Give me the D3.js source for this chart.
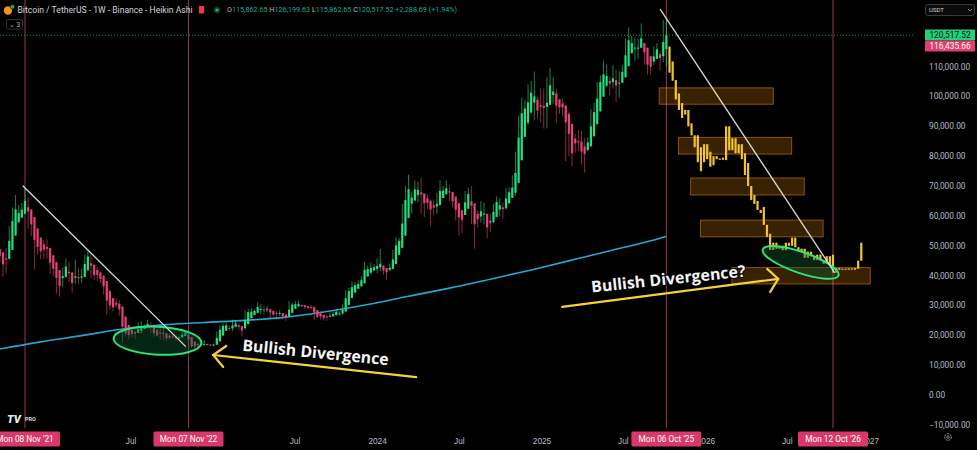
<!DOCTYPE html>
<html>
<head>
<meta charset="utf-8">
<script src="https://cdn.jsdelivr.net/npm/d3@7"></script>
<style>
  html, body { margin: 0; padding: 0; background: #000; overflow: hidden; }
  svg { display: block; font-family: Roboto, "Liberation Sans", sans-serif; }
</style>
</head>
<body>
<script>
// weekly BTCUSDT candles (thousands), first week starts 2021-08-23
var startWeek = "2021-08-23";
var firstOpen = 49.2;
var weekClose = [
  48.8, 51.8, 46.0, 47.3, 43.2, 48.2, 54.7, 61.5, 60.9, 61.3, 63.3, 65.5, 58.6, 57.3, 49.4, 50.1, 46.7, 50.8, 47.3,
  41.8, 43.1, 36.3, 37.9, 42.4, 42.2, 38.4, 37.7, 38.8, 37.8, 41.3, 46.8, 46.4, 40.4, 40.4, 39.4, 37.6, 34.3, 31.3,
  29.4, 29.4, 29.9, 26.6, 20.6, 20.7, 19.3, 20.8, 20.8, 22.6, 23.3, 23.2, 24.3, 21.5, 20.0, 19.8, 21.8, 19.4, 18.8,
  19.3, 19.1, 19.2, 19.6, 20.8, 21.0, 16.3, 16.3, 16.5, 17.1, 17.1, 16.8, 16.8, 16.6,
  17.1, 20.9, 22.7, 23.7, 22.9, 21.8, 24.6, 23.2, 22.4, 22.0, 28.0, 27.5, 28.4, 28.3, 30.3, 27.6, 29.2, 28.9, 26.9,
  26.7, 28.1, 27.1, 25.9, 26.3, 30.5, 30.2, 30.2, 30.2, 29.8, 29.3, 29.1, 29.3, 26.1, 26.0, 25.9, 25.8, 26.5, 26.3,
  27.9, 27.9, 27.1, 30.0, 34.5, 35.0, 37.1, 37.4, 37.4, 39.5, 43.8, 41.4, 43.7, 42.3,
  43.9, 41.7, 41.6, 42.0, 42.6, 48.3, 51.7, 51.7, 63.1, 68.9, 68.4, 67.2, 69.6, 69.4, 65.7, 64.9, 63.1, 63.9, 61.5,
  66.3, 69.0, 67.8, 69.6, 66.6, 63.2, 62.7, 58.0, 60.8, 68.2, 68.3, 58.2, 58.7, 59.0, 64.2, 57.3, 54.9, 60.0, 63.6,
  65.6, 62.8, 62.9, 69.0, 68.0, 68.8, 80.4, 90.6, 97.9, 96.4, 101.1, 104.5, 95.0, 93.7, 98.4,
  94.5, 101.3, 104.7, 97.7, 96.5, 96.1, 96.3, 94.3, 80.7, 82.6, 86.1, 82.3, 78.4, 83.8, 85.2, 94.0, 94.3, 104.5,
  106.4, 109.0, 104.6, 105.7, 105.6, 102.1, 108.3, 109.2, 119.1, 117.3, 119.4, 114.2, 119.3, 117.4, 113.5, 108.3,
  111.1, 115.3, 115.3, 112.2, 123.5, 122.4
];
var weekHigh = [
  50.5, 52.9, 52.9, 48.8, 45.0, 49.3, 56.6, 62.9, 67.0, 63.7, 64.3, 69.0, 66.3, 59.4, 59.2, 51.9, 50.3, 51.9, 52.1,
  47.6, 44.5, 43.5, 38.9, 42.6, 45.8, 44.7, 39.9, 45.4, 42.6, 42.3, 47.0, 48.2, 47.2, 41.5, 42.9, 40.8, 40.0, 34.2,
  31.0, 30.6, 32.4, 31.7, 26.8, 21.9, 21.4, 22.4, 21.6, 24.3, 24.7, 23.6, 25.2, 24.4, 21.8, 20.6, 22.8, 22.7, 19.9,
  20.4, 20.5, 19.5, 19.7, 21.1, 21.5, 21.5, 17.2, 16.8, 17.4, 17.4, 18.4, 17.0, 16.9,
  17.2, 21.3, 23.4, 23.9, 24.2, 23.3, 25.3, 25.1, 23.9, 22.6, 28.4, 28.9, 29.2, 28.7, 31.0, 30.5, 30.0, 29.8, 28.9,
  27.7, 28.2, 28.4, 27.4, 26.8, 31.4, 31.0, 31.5, 31.8, 30.4, 29.7, 29.8, 30.2, 29.7, 26.8, 28.1, 26.4, 27.0, 27.4,
  28.0, 28.6, 27.9, 30.3, 35.2, 35.9, 38.0, 37.9, 38.4, 39.8, 44.7, 43.4, 44.4, 43.8,
  45.9, 48.9, 43.2, 42.2, 43.9, 48.6, 52.8, 52.5, 64.0, 70.1, 73.8, 68.2, 71.8, 71.3, 72.8, 66.9, 67.2, 64.7, 65.5,
  67.7, 71.9, 70.0, 71.9, 70.2, 66.9, 64.1, 63.8, 61.8, 68.4, 69.4, 70.0, 62.7, 61.8, 65.0, 64.5, 59.8, 60.6, 64.1,
  66.5, 66.0, 64.5, 69.4, 69.5, 73.6, 81.5, 93.4, 99.6, 98.7, 104.1, 105.2, 108.4, 99.9, 102.7,
  102.5, 106.4, 109.6, 106.5, 102.5, 98.8, 99.5, 96.5, 95.0, 84.0, 87.4, 88.8, 88.5, 86.1, 86.4, 95.8, 97.9, 104.9,
  107.1, 112.0, 110.7, 106.8, 110.5, 108.9, 108.5, 110.5, 119.5, 123.2, 120.2, 119.8, 119.4, 124.5, 117.6, 113.5,
  113.3, 116.8, 117.9, 115.4, 125.7, 126.2
];
var weekLow = [
  46.4, 46.5, 42.8, 44.8, 39.6, 40.8, 47.1, 53.9, 59.5, 58.0, 59.4, 62.3, 55.6, 53.3, 42.0, 47.1, 45.5, 45.6, 45.7,
  40.6, 39.6, 34.0, 32.9, 36.3, 41.7, 38.0, 34.3, 37.2, 37.2, 37.6, 40.5, 44.2, 39.2, 38.5, 38.2, 37.6, 33.7, 26.7,
  28.6, 28.0, 29.3, 26.6, 17.6, 19.6, 18.8, 19.3, 18.9, 20.8, 20.7, 22.4, 22.7, 20.8, 19.5, 19.6, 18.5, 18.2, 18.1,
  18.5, 19.0, 18.2, 18.6, 19.3, 20.0, 15.6, 15.8, 15.5, 16.0, 16.8, 16.3, 16.4, 16.3,
  16.5, 17.2, 20.4, 22.3, 22.6, 21.4, 21.4, 22.9, 21.9, 19.6, 21.9, 26.6, 26.5, 27.2, 28.2, 27.1, 27.0, 27.7, 25.8,
  26.4, 25.9, 26.5, 25.3, 24.8, 26.2, 29.5, 29.7, 30.1, 29.5, 28.9, 28.6, 28.7, 25.2, 25.8, 25.3, 24.9, 24.9, 26.0,
  26.1, 27.2, 26.5, 26.8, 30.0, 33.9, 34.5, 34.8, 35.6, 37.1, 39.9, 40.2, 40.6, 41.4,
  40.8, 41.5, 40.3, 38.5, 41.9, 42.3, 47.7, 50.6, 50.9, 59.0, 64.6, 60.8, 66.8, 64.5, 60.7, 59.6, 62.3, 56.6, 60.2,
  60.7, 66.3, 67.1, 67.6, 65.0, 62.8, 58.4, 53.5, 54.3, 60.7, 63.5, 57.2, 49.0, 56.1, 57.8, 57.2, 52.5, 54.6, 57.6,
  62.7, 59.8, 58.9, 62.0, 65.1, 67.5, 66.8, 80.3, 89.4, 90.8, 90.5, 94.2, 92.2, 92.6, 91.5,
  89.3, 89.3, 99.5, 97.7, 91.2, 94.1, 93.4, 78.3, 80.0, 76.6, 81.1, 81.6, 77.1, 74.5, 83.0, 85.1, 92.8, 93.4,
  101.4, 102.1, 103.1, 100.4, 102.7, 98.2, 99.6, 105.1, 107.5, 115.7, 114.7, 112.0, 112.6, 116.8, 110.6, 107.3,
  107.3, 110.6, 114.7, 108.6, 111.5, 110.0
];

// drawn projection (yellow bars), one per week from 2025-10-13
var projStart = "2025-10-13";
var projOpen = [
  116.7, 111.7, 105.5, 101, 97.8, 95.5, 95.5, 91, 87, 87, 83, 78, 84, 81.5, 77, 80, 79.2, 78.8, 78.7, 90,
  82, 86, 81, 84, 81, 77.7, 70, 67, 65, 62, 63, 57, 54, 48.6, 51, 49, 50, 48.5, 51, 50,
  52.7, 49.5, 48, 49, 46, 48, 46.5, 45.2, 47, 45, 44, 46.5, 47, 41, 42.5, 42, 42.3, 42, 42.4, 42,
  42.3, 45
];
var projClose = [
  108, 105.3, 99, 95.5, 92.8, 94, 90, 87, 83, 78, 75, 84, 79, 76.5, 80, 79, 78.8, 79.5, 90, 82,
  86, 81, 84, 79, 73.7, 70, 65.3, 64, 62, 61, 57, 53, 48.6, 51, 49, 50, 48.5, 51, 50, 52.7,
  49.5, 48, 49, 46, 48, 46.5, 45.2, 47, 45, 44, 46.5, 43.6, 41, 42.5, 42, 42.3, 42, 42.4, 42, 42.5,
  45, 51
];

// 200 week moving average (thousands)
var maDates = ["2021-09-13", "2021-12-13", "2022-03-14", "2022-06-13", "2022-09-12", "2022-12-12", "2023-03-13",
  "2023-06-12", "2023-09-11", "2023-12-11", "2024-03-11", "2024-06-10", "2024-09-09", "2024-12-09", "2025-03-10",
  "2025-06-09", "2025-09-08", "2025-10-06"];
var maValues = [15.4, 17.8, 19.9, 22.1, 23.5, 24.3, 25.0, 26.1, 28.0, 30.3, 33.1, 35.8, 38.8, 41.9, 45.2, 48.6, 51.9, 53.1];

// drawings: trend lines [date, price], zones [from, to, top, bottom]
var trendLines = [
  [["2021-11-03", 70.1], ["2022-11-01", 16.2]],
  [["2025-09-22", 129.3], ["2026-10-16", 40.9]]
];
var zones = [
  ["2025-09-20", "2026-06-01", 102.9, 97.4],
  ["2025-11-02", "2026-07-12", 86.3, 80.7],
  ["2025-11-29", "2026-08-09", 72.7, 67.0],
  ["2025-12-21", "2026-09-20", 58.6, 53.0],
  ["2026-03-01", "2027-01-03", 42.7, 37.2]
];
var ellipseCenters = [["2022-08-30", 18.2], ["2026-08-01", 44.4]];
var arrows = [
  [["2024-03-28", 6.0], ["2023-01-01", 13.4]],
  [["2025-02-16", 29.5], ["2026-06-12", 38.9]]
];
var notes = [["Bullish Divergence", "2023-03-06", 14.8], ["Bullish Divergence?", "2025-04-23", 34.3]];

var markerDates = ["2021-11-08", "2022-11-07", "2025-10-06", "2026-10-12"];
var markerLabels = ["Mon 08 Nov '21", "Mon 07 Nov '22", "Mon 06 Oct '25", "Mon 12 Oct '26"];

var xTickDates = ["2022-07-01", "2023-07-01", "2024-01-01", "2024-07-01",
  "2025-01-01", "2025-07-01", "2026-01-01", "2026-07-01", "2027-01-01"];
var xTickLabels = ["Jul", "Jul", "2024", "Jul", "2025", "Jul", "2026", "Jul", "2027"];
var yTicks = [-10000, 0, 10000, 20000, 30000, 40000, 50000, 60000, 70000, 80000, 90000, 100000, 110000];

var lastPrice = 120517.52;
var prevPrice = 116435.66;

var W = 977, H = 450, plotW = 915, plotH = 428;
var K = 1000;
var parse = d3.timeParse("%Y-%m-%d");
var upColor = "#22e07f", downColor = "#e4437a", projColor = "#f1c232";

var x = d3.scaleTime()
    .domain([parse("2021-11-08"), parse("2026-10-12")])
    .range([25, 833]);
var y = d3.scaleLinear()
    .domain([0, 100000])
    .range([395, 96.5]);

// heikin ashi from the weekly bars
var candles = [];
weekClose.forEach(function (c, i) {
  var o = i === 0 ? firstOpen : weekClose[i - 1];
  var hc = (o + weekHigh[i] + weekLow[i] + c) / 4;
  var ho = i === 0 ? (o + c) / 2 : (candles[i - 1].o + candles[i - 1].c) / 2;
  candles.push({
    date: d3.timeWeek.offset(parse(startWeek), i),
    o: ho, c: hc,
    h: Math.max(weekHigh[i], ho, hc),
    l: Math.min(weekLow[i], ho, hc),
    color: hc >= ho ? upColor : downColor
  });
});
var proj = projClose.map(function (c, i) {
  var o = projOpen[i];
  return { date: d3.timeWeek.offset(parse(projStart), i), o: o, c: c, h: Math.max(o, c), l: Math.min(o, c), color: projColor };
});

var svg = d3.select("body").append("svg")
    .attr("width", W)
    .attr("height", H);

svg.append("rect").attr("width", W).attr("height", H).attr("fill", "#000");

svg.append("clipPath").attr("id", "plot")
  .append("rect").attr("width", plotW).attr("height", plotH);

var plot = svg.append("g").attr("clip-path", "url(#plot)");

// session markers
plot.selectAll("line.marker")
    .data(markerDates)
    .enter().append("line")
    .attr("class", "marker")
    .attr("x1", function (d) { return x(parse(d)); })
    .attr("x2", function (d) { return x(parse(d)); })
    .attr("y1", 0)
    .attr("y2", H)
    .attr("stroke", "#9a3457")
    .attr("stroke-width", 1);

// last price line
plot.append("line")
    .attr("x1", 0).attr("x2", plotW)
    .attr("y1", y(lastPrice)).attr("y2", y(lastPrice))
    .attr("stroke", "#2f8a5f")
    .attr("stroke-dasharray", "1,2")
    .attr("stroke-width", 1);

// zones
plot.selectAll("rect.zone")
    .data(zones)
    .enter().append("rect")
    .attr("class", "zone")
    .attr("x", function (d) { return x(parse(d[0])); })
    .attr("y", function (d) { return y(d[2] * K); })
    .attr("width", function (d) { return x(parse(d[1])) - x(parse(d[0])); })
    .attr("height", function (d) { return y(d[3] * K) - y(d[2] * K); })
    .attr("fill", "rgba(255,152,0,0.22)")
    .attr("stroke", "rgba(255,152,0,0.5)")
    .attr("stroke-width", 1);

// moving average
plot.append("path")
    .datum(maDates.map(function (d, i) { return [parse(d), maValues[i] * K]; }))
    .attr("fill", "none")
    .attr("stroke", "#27a6d3")
    .attr("stroke-width", 1.6)
    .attr("d", d3.line()
      .x(function (d) { return x(d[0]); })
      .y(function (d) { return y(d[1]); })
      .curve(d3.curveMonotoneX));

// candles
var allCandles = candles.concat(proj);
var cg = plot.selectAll("g.candle")
    .data(allCandles)
    .enter().append("g")
    .attr("class", "candle");
cg.append("line")
    .attr("x1", function (d) { return x(d.date); })
    .attr("x2", function (d) { return x(d.date); })
    .attr("y1", function (d) { return y(d.h * K); })
    .attr("y2", function (d) { return y(d.l * K); })
    .attr("stroke", function (d) { return d.color; })
    .attr("stroke-opacity", 0.75)
    .attr("stroke-width", 0.8);
cg.append("rect")
    .attr("x", function (d) { return x(d.date) - 1.1; })
    .attr("width", 2.2)
    .attr("y", function (d) { return y(Math.max(d.o, d.c) * K); })
    .attr("height", function (d) { return Math.max(1, Math.abs(y(d.o * K) - y(d.c * K))); })
    .attr("fill", function (d) { return d.color; });

// ellipses over the lows
var ellipseShape = [[44, 14, 3], [40, 10.5, 19]];
plot.selectAll("ellipse.circle")
    .data(ellipseCenters)
    .enter().append("ellipse")
    .attr("class", "circle")
    .attr("cx", 0).attr("cy", 0)
    .attr("rx", function (d, i) { return ellipseShape[i][0]; })
    .attr("ry", function (d, i) { return ellipseShape[i][1]; })
    .attr("transform", function (d, i) {
      return "translate(" + x(parse(d[0])) + "," + y(d[1] * K) + ") rotate(" + ellipseShape[i][2] + ")";
    })
    .attr("fill", "rgba(10,90,50,0.4)")
    .attr("stroke", "#2ee37a")
    .attr("stroke-width", 2);

// trend lines
plot.selectAll("line.trend")
    .data(trendLines)
    .enter().append("line")
    .attr("class", "trend")
    .attr("x1", function (d) { return x(parse(d[0][0])); })
    .attr("y1", function (d) { return y(d[0][1] * K); })
    .attr("x2", function (d) { return x(parse(d[1][0])); })
    .attr("y2", function (d) { return y(d[1][1] * K); })
    .attr("stroke", "#d9d9d9")
    .attr("stroke-width", 1.3);

// arrows
var arrowArms = [[[13, -9], [10, 12]], [[-11, -10], [-8, 13]]];
arrows.forEach(function (a, i) {
  var x1 = x(parse(a[0][0])), y1 = y(a[0][1] * K);
  var x2 = x(parse(a[1][0])), y2 = y(a[1][1] * K);
  var g = plot.append("g")
      .attr("stroke", "#f3d23c")
      .attr("stroke-width", 2.2)
      .attr("stroke-linecap", "round")
      .attr("fill", "none");
  g.append("line").attr("x1", x1).attr("y1", y1).attr("x2", x2).attr("y2", y2);
  g.append("path").attr("d", "M" + (x2 + arrowArms[i][0][0]) + "," + (y2 + arrowArms[i][0][1]) +
      "L" + x2 + "," + y2 + "L" + (x2 + arrowArms[i][1][0]) + "," + (y2 + arrowArms[i][1][1]));
});

// notes
var noteTilt = [5.6, -6];
var noteLen = [147, 155];
plot.selectAll("text.note")
    .data(notes)
    .enter().append("text")
    .attr("class", "note")
    .attr("transform", function (d, i) {
      return "translate(" + x(parse(d[1])) + "," + y(d[2] * K) + ") rotate(" + noteTilt[i] + ")";
    })
    .attr("textLength", function (d, i) { return noteLen[i]; })
    .attr("lengthAdjust", "spacingAndGlyphs")
    .attr("font-family", "'Open Sans', sans-serif")
    .attr("font-weight", 700)
    .attr("font-size", 16)
    .attr("fill", "#f4f4f4")
    .attr("stroke", "#000")
    .attr("stroke-width", 2)
    .attr("paint-order", "stroke")
    .text(function (d) { return d[0]; });

// price scale
var fmt = d3.format(",.2f");
svg.selectAll("text.ytick")
    .data(yTicks)
    .enter().append("text")
    .attr("class", "ytick")
    .attr("x", 929)
    .attr("y", function (d) { return y(d); })
    .attr("dy", "0.35em")
    .attr("font-size", 8.3)
    .attr("fill", "#b8bcc6")
    .text(function (d) { return fmt(d).replace("-", "\u2212"); });

var priceTags = [[lastPrice, "#1fd17a", "#0b0b0b", 35], [prevPrice, "#e03c6e", "#ffffff", 46]];
priceTags.forEach(function (p) {
  svg.append("rect").attr("x", 925).attr("y", p[3] - 5.5).attr("width", 50).attr("height", 11)
      .attr("rx", 1).attr("fill", p[1]);
  svg.append("text").attr("x", 950).attr("y", p[3]).attr("dy", "0.35em")
      .attr("text-anchor", "middle").attr("font-size", 8.3).attr("fill", p[2])
      .text(fmt(p[0]));
});

// currency box
svg.append("rect").attr("x", 925.5).attr("y", 4.5).attr("width", 49).attr("height", 11).attr("rx", 2)
    .attr("fill", "#0b0b0b").attr("stroke", "#3a3a3a");
svg.append("text").attr("x", 929).attr("y", 10).attr("dy", "0.35em").attr("font-size", 6)
    .attr("fill", "#d1d4dc").text("USDT");
svg.append("path").attr("d", "M968,9 L970,11 L972,9").attr("fill", "none").attr("stroke", "#999").attr("stroke-width", 0.8);

// time scale
var xAxis = d3.axisBottom(x)
    .tickValues(xTickDates.map(parse))
    .tickSize(0)
    .tickFormat(function (d, i) { return xTickLabels[i]; });
var xg = svg.append("g")
    .attr("transform", "translate(0,435)")
    .call(xAxis);
xg.select(".domain").remove();
xg.selectAll("text").attr("fill", "#b8bcc6").attr("font-size", 8.3).attr("font-family", null);

svg.selectAll("g.mlabel")
    .data(markerDates)
    .enter().append("g")
    .attr("class", "mlabel")
    .attr("transform", function (d) { return "translate(" + x(parse(d)) + ",439)"; })
    .each(function (d, i) {
      var g = d3.select(this);
      g.append("rect").attr("x", -35).attr("y", -7.5).attr("width", 70).attr("height", 15).attr("rx", 1.5)
          .attr("fill", "#d9386d");
      g.append("text").attr("text-anchor", "middle").attr("dy", "0.35em").attr("font-size", 8.3)
          .attr("fill", "#fff").text(markerLabels[i]);
    });

// gear
svg.append("circle").attr("cx", 948).attr("cy", 437).attr("r", 3.3).attr("fill", "none")
    .attr("stroke", "#9a9ea8").attr("stroke-width", 1).attr("stroke-dasharray", "2,0.8");
svg.append("circle").attr("cx", 948).attr("cy", 437).attr("r", 1.2).attr("fill", "none")
    .attr("stroke", "#9a9ea8").attr("stroke-width", 0.8);

// logo
svg.append("text").attr("x", 7).attr("y", 423).attr("font-size", 11).attr("font-weight", 900)
    .attr("fill", "#e8e8e8").attr("font-style", "italic").text("TV");
svg.append("rect").attr("x", 23).attr("y", 414.5).attr("width", 17).attr("height", 8).attr("fill", "none")
    .attr("stroke", "#ccc").attr("stroke-width", 0.8).attr("transform", "skewX(-10)");
svg.append("text").attr("x", 25).attr("y", 420.8).attr("font-size", 5.5).attr("font-weight", 700)
    .attr("fill", "#ddd").text("PRO");

// header
svg.append("circle").attr("cx", 8).attr("cy", 10.5).attr("r", 4.2).attr("fill", "#f7931a");
svg.append("circle").attr("cx", 12.5).attr("cy", 6.8).attr("r", 2.3).attr("fill", "#26a17b").attr("stroke", "#000").attr("stroke-width", 0.6);
svg.append("text").attr("x", 17.5).attr("y", 10).attr("dy", "0.35em")
    .attr("font-size", 8.3).attr("fill", "#d1d4dc")
    .attr("textLength", 175).attr("lengthAdjust", "spacingAndGlyphs")
    .text("Bitcoin / TetherUS - 1W - Binance - Heikin Ashi");
svg.append("rect").attr("x", 199).attr("y", 6).attr("width", 5).attr("height", 7.5).attr("fill", "#f23645");
svg.append("circle").attr("cx", 217).attr("cy", 10).attr("r", 3.2).attr("fill", "#0d3d2c");
svg.append("circle").attr("cx", 217).attr("cy", 10).attr("r", 1.6).attr("fill", "#22ab94");

var ohlc = [["O", "115,862.65"], ["H", "126,199.63"], ["L", "115,862.65"], ["C", "120,517.52"], ["", "+2,288.69 (+1.94%)"]];
var ohlcText = svg.append("text").attr("x", 227).attr("y", 10).attr("dy", "0.35em")
    .attr("font-size", 6.8).attr("textLength", 230).attr("lengthAdjust", "spacingAndGlyphs");
ohlc.forEach(function (p, i) {
  ohlcText.append("tspan").attr("fill", "#b8bcc6").text((i ? " " : "") + p[0]);
  ohlcText.append("tspan").attr("fill", "#22ab94").text(p[1]);
});

svg.append("rect").attr("x", 6.5).attr("y", 19.5).attr("width", 16).attr("height", 9.5).attr("rx", 1.5)
    .attr("fill", "#000").attr("stroke", "#333");
svg.append("text").attr("x", 9).attr("y", 24.3).attr("dy", "0.35em").attr("font-size", 6.5)
    .attr("fill", "#b8bcc6").text("\u2304 3");
</script>
</body>
</html>
